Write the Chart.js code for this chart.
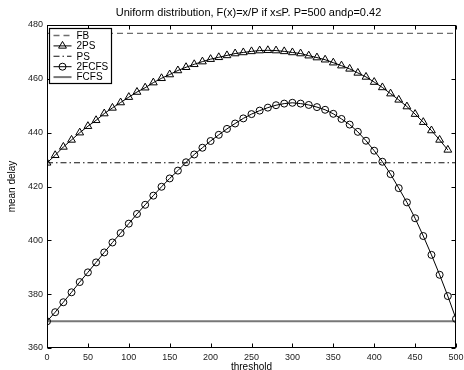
<!DOCTYPE html>
<html>
<head>
<meta charset="utf-8">
<script src="https://cdn.jsdelivr.net/npm/chart.js@4.4.0/dist/chart.umd.min.js"></script>
<style>
html, body { margin: 0; padding: 0; background: #fff; }
#wrap { width: 464px; height: 370px; }
</style>
</head>
<body>
<div id="wrap"><canvas id="chart" width="464" height="370"></canvas></div>
<script>
const titleText = 'Uniform distribution, F(x)=x/P if x\u2264P. P=500 and\u03c1=0.42';

// thresholds (x values) of the two curves
const thresholds = [0, 10, 20, 30, 40, 50, 60, 70, 80, 90, 100, 110, 120, 130, 140, 150, 160, 170, 180, 190,
  200, 210, 220, 230, 240, 250, 260, 270, 280, 290, 300, 310, 320, 330, 340, 350, 360, 370, 380, 390,
  400, 410, 420, 430, 440, 450, 460, 470, 480, 490, 500];
const twoPsThresholds = thresholds.slice(0, 50); // 2PS stops at 490

const twoPsDelay = [428.8, 431.6, 434.7, 437.3, 440.0, 442.4, 444.6, 447.1, 449.2, 451.2,
  453.2, 455.1, 456.7, 458.6, 460.2, 461.6, 463.1, 464.3, 465.4, 466.4,
  467.3, 468.0, 468.7, 469.4, 469.8, 470.2, 470.5, 470.6, 470.5, 470.2,
  469.8, 469.4, 468.6, 467.9, 467.1, 466.0, 464.9, 463.7, 462.2, 460.7,
  458.8, 456.8, 454.5, 452.2, 449.7, 446.9, 443.9, 440.8, 437.3, 433.6];

const twoFcfsDelay = [369.9, 373.3, 377.0, 380.7, 384.5, 388.1, 391.8, 395.5, 399.2, 402.7,
  406.2, 409.8, 413.2, 416.6, 419.9, 423.0, 425.9, 429.0, 431.9, 434.4,
  436.9, 439.2, 441.4, 443.4, 445.3, 446.9, 448.2, 449.3, 450.2, 450.8,
  451.1, 450.8, 450.3, 449.5, 448.5, 447.0, 445.1, 443.0, 440.3, 437.0,
  433.3, 429.2, 424.6, 419.4, 414.1, 408.2, 401.6, 394.6, 387.2, 379.3, 370.8];

// flat reference policies, drawn from x=0 to x=500
const lineEnds = [0, 500];
const fbDelay = [476.9, 476.9];
const psDelay = [428.8, 428.8];
const fcfsDelay = [369.9, 369.9];

const xTicks = [0, 50, 100, 150, 200, 250, 300, 350, 400, 450, 500];
const yTicks = [360, 380, 400, 420, 440, 460, 480];

function pts(xs, ys) {
  return ys.map((v, i) => ({ x: xs[i], y: v }));
}

const FONT = '"Liberation Sans", Arial, sans-serif';

// box, inward ticks, legend and title (matlab look)
const framePlugin = {
  id: 'frame',
  afterDraw(chart) {
    const { ctx, chartArea: a, scales } = chart;
    const x = scales.x, y = scales.y;
    const L = Math.round(a.left) + 0.5, R = Math.round(a.right) - 0.5;
    const T = Math.round(a.top) + 0.5, B = Math.round(a.bottom) - 0.5;
    ctx.save();
    ctx.strokeStyle = '#000';
    ctx.lineWidth = 1;
    ctx.setLineDash([]);
    ctx.strokeRect(L, T, R - L, B - T);
    ctx.beginPath();
    xTicks.forEach(v => {
      const px = Math.round(x.getPixelForValue(v)) + 0.5;
      ctx.moveTo(px, B); ctx.lineTo(px, B - 4);
      ctx.moveTo(px, T); ctx.lineTo(px, T + 4);
    });
    yTicks.forEach(v => {
      const py = Math.round(y.getPixelForValue(v)) + 0.5;
      ctx.moveTo(L, py); ctx.lineTo(L + 4, py);
      ctx.moveTo(R, py); ctx.lineTo(R - 4, py);
    });
    ctx.stroke();

    // legend
    const order = [0, 1, 2, 3, 4];
    const bx = L + 2, by = T + 3, bw = 62, bh = 55;
    ctx.fillStyle = '#fff';
    ctx.fillRect(bx, by, bw, bh);
    ctx.lineWidth = 1.2;
    ctx.strokeStyle = '#000';
    ctx.strokeRect(bx, by, bw, bh);
    ctx.font = '10px ' + FONT;
    ctx.textBaseline = 'middle';
    ctx.textAlign = 'left';
    order.forEach((di, k) => {
      const ds = chart.data.datasets[di];
      const ly = by + 7 + k * 10.4;
      ctx.save();
      ctx.strokeStyle = ds.borderColor;
      ctx.lineWidth = ds.borderWidth;
      ctx.setLineDash(ds.borderDash || []);
      ctx.beginPath();
      ctx.moveTo(bx + 4, ly); ctx.lineTo(bx + 22, ly);
      ctx.stroke();
      ctx.setLineDash([]);
      if (ds.pointRadius > 0) {
        ctx.strokeStyle = ds.pointBorderColor;
        ctx.fillStyle = 'rgba(0,0,0,0)';
        ctx.lineWidth = 1;
        Chart.helpers.drawPoint(ctx, { pointStyle: ds.pointStyle, radius: ds.pointRadius, rotation: 0, borderWidth: 1 }, bx + 13, ly);
      }
      ctx.restore();
      ctx.fillStyle = '#000';
      ctx.fillText(ds.label, bx + 27, ly + 0.5);
    });

    // title
    ctx.font = '11px ' + FONT;
    ctx.fillStyle = '#000';
    ctx.textAlign = 'center';
    ctx.fillText(titleText, (a.left + a.right) / 2 - 3, 13);
    ctx.restore();
  }
};

const ctx = document.getElementById('chart').getContext('2d');
new Chart(ctx, {
  type: 'line',
  data: {
    datasets: [
      {
        label: 'FB', data: pts(lineEnds, fbDelay),
        borderColor: '#6e6e6e', borderWidth: 1.3, borderDash: [6, 4],
        pointRadius: 0
      },
      {
        label: '2PS', data: pts(twoPsThresholds, twoPsDelay),
        borderColor: '#000', borderWidth: 1,
        pointStyle: 'triangle', pointRadius: 4.5, pointBorderColor: '#000',
        pointBackgroundColor: 'rgba(0,0,0,0)', pointBorderWidth: 1
      },
      {
        label: 'PS', data: pts(lineEnds, psDelay),
        borderColor: '#111', borderWidth: 1.1, borderDash: [6, 3, 1.5, 3],
        pointRadius: 0
      },
      {
        label: '2FCFS', data: pts(thresholds, twoFcfsDelay),
        borderColor: '#000', borderWidth: 1,
        pointStyle: 'circle', pointRadius: 3.5, pointBorderColor: '#000',
        pointBackgroundColor: 'rgba(0,0,0,0)', pointBorderWidth: 1
      },
      {
        label: 'FCFS', data: pts(lineEnds, fcfsDelay),
        borderColor: '#777', borderWidth: 2,
        pointRadius: 0
      }
    ]
  },
  options: {
    responsive: false,
    animation: false,
    devicePixelRatio: 1,
    layout: { padding: { top: 25, right: 8, left: 0, bottom: 0 } },
    plugins: { legend: { display: false }, title: { display: false }, tooltip: { enabled: false } },
    elements: { line: { tension: 0 } },
    scales: {
      x: {
        type: 'linear', min: 0, max: 500,
        grid: { display: false, drawTicks: false },
        border: { display: false },
        afterBuildTicks: s => { s.ticks = xTicks.map(v => ({ value: v })); },
        ticks: { font: { family: FONT, size: 9 }, color: '#222', padding: 4, maxRotation: 0, autoSkip: false },
        title: { display: true, text: 'threshold', font: { family: FONT, size: 10 }, color: '#000', padding: { top: 0, bottom: -3 } },
        afterFit: s => { s.height = 22; s.paddingLeft = 0; s.paddingRight = 0; }
      },
      y: {
        min: 360, max: 480,
        grid: { display: false, drawTicks: false },
        border: { display: false },
        afterBuildTicks: s => { s.ticks = yTicks.map(v => ({ value: v })); },
        ticks: { font: { family: FONT, size: 9 }, color: '#222', padding: 4 },
        title: { display: true, text: 'mean delay', font: { family: FONT, size: 10 }, color: '#000', padding: { top: 6, bottom: 0 } },
        afterFit: s => { s.width = 47; }
      }
    }
  },
  plugins: [framePlugin]
});
</script>
</body>
</html>
